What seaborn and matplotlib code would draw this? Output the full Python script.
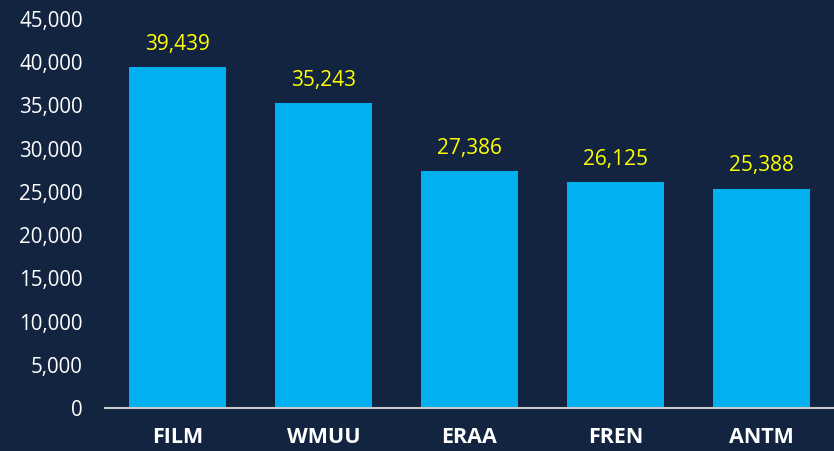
import matplotlib
matplotlib.use("Agg")
import matplotlib.pyplot as plt
import matplotlib.ticker as mticker
import pandas as pd
import seaborn as sns

categories = ["FILM", "WMUU", "ERAA", "FREN", "ANTM"]
values = [39439, 35243, 27386, 26125, 25388]

BG = "#12243f"
BAR = "#00b0f0"

sns.set_theme(style="white")
plt.rcParams["font.family"] = ["Open Sans", "DejaVu Sans"]

df = pd.DataFrame({"cat": categories, "val": values})

fig = plt.figure(figsize=(8.34, 4.51), dpi=100, facecolor=BG)
ax = fig.add_axes([105 / 834, 43 / 451, 1 - 105 / 834, 389 / 451])
ax.set_facecolor(BG)

sns.barplot(data=df, x="cat", y="val", color=BAR, width=0.665, saturation=1,
            linewidth=0, ax=ax)

ax.set_xlim(-0.5, 4.5)
ax.set_ylim(0, 45000)
ax.set_yticks(range(0, 45001, 5000))
ax.yaxis.set_major_formatter(mticker.FuncFormatter(lambda v, _: f"{int(v):,}"))
ax.set_xlabel("")
ax.set_ylabel("")

for s in ["top", "right", "left"]:
    ax.spines[s].set_visible(False)
ax.spines["bottom"].set_color("#c8c8c8")
ax.spines["bottom"].set_linewidth(1.5)

ax.tick_params(axis="y", colors="white", labelsize=14.8, length=0, pad=16)
ax.tick_params(axis="x", colors="white", labelsize=15.5, length=0, pad=14)
for lbl in ax.get_xticklabels():
    lbl.set_fontweight("bold")

for i, v in enumerate(values):
    ax.annotate(f"{v:,}", (i, v), xytext=(0, 9), textcoords="offset points",
                ha="center", va="bottom", color="#ffff00", fontsize=15)

fig.savefig("out.png", dpi=100, facecolor=BG)
